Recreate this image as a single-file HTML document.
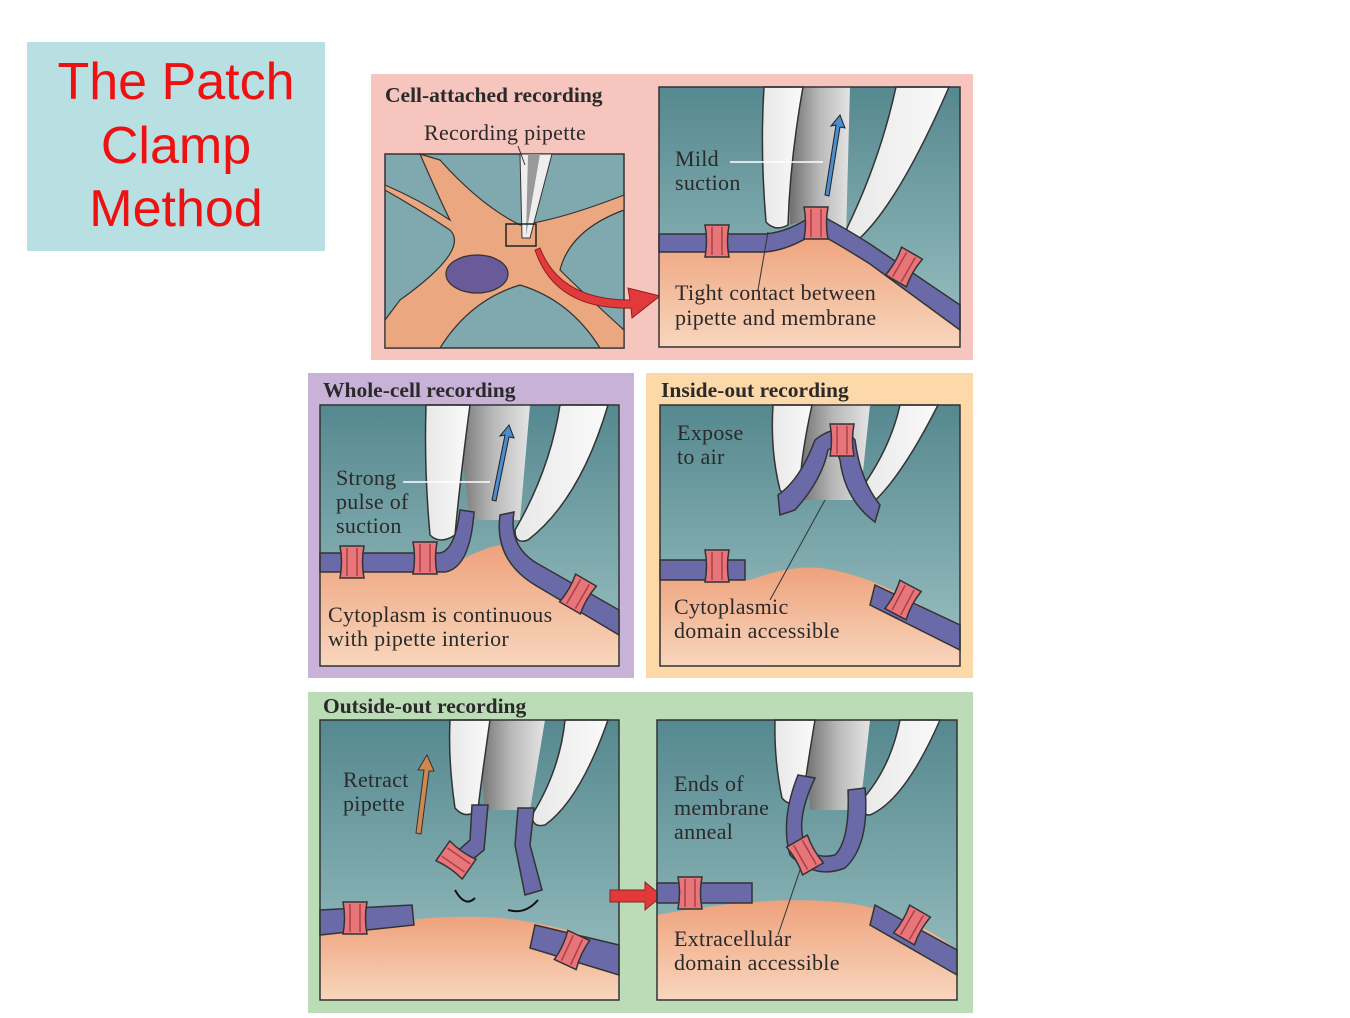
<!DOCTYPE html>
<html><head><meta charset="utf-8"><style>
body{margin:0;background:#fff;width:1350px;height:1013px;overflow:hidden}
svg text{font-family:"Liberation Serif",serif;fill:#2a2a2a}
.t{font-weight:bold;font-size:21.5px}
.l{font-size:22px;letter-spacing:0.3px}
</style></head><body>
<svg width="1350" height="1013" viewBox="0 0 1350 1013" xmlns="http://www.w3.org/2000/svg">
<defs>
<linearGradient id="sea" x1="0" y1="0" x2="0" y2="1"><stop offset="0" stop-color="#55888f"/><stop offset="1" stop-color="#9cc2c3"/></linearGradient>
<linearGradient id="cyto" x1="0" y1="0" x2="0" y2="1"><stop offset="0" stop-color="#eea27c"/><stop offset="1" stop-color="#f8d6bd"/></linearGradient>
<linearGradient id="gl" x1="0" y1="0" x2="1" y2="0"><stop offset="0" stop-color="#e8e8e8"/><stop offset="1" stop-color="#fafafa"/></linearGradient>
<linearGradient id="gi" x1="0" y1="0" x2="1" y2="0"><stop offset="0" stop-color="#6e6e6e"/><stop offset="0.5" stop-color="#b9b9b9"/><stop offset="1" stop-color="#e4e4e4"/></linearGradient>
<g id="ch"><path d="M-12,-16 h24 q-3,16 0,32 h-24 q3,-16 0,-32z" fill="#e7757a" stroke="#333" stroke-width="1.5"/><path d="M-5,-14 v28 M5,-14 v28" stroke="#a84048" stroke-width="1.5"/></g>
</defs>

<rect x="27" y="42" width="298" height="209" fill="#b8dfe2"/>
<text x="176" y="99" text-anchor="middle" style="font-family:'Liberation Sans',sans-serif;font-size:52px;fill:#ee1111">The Patch</text>
<text x="176" y="163" text-anchor="middle" style="font-family:'Liberation Sans',sans-serif;font-size:52px;fill:#ee1111">Clamp</text>
<text x="176" y="226" text-anchor="middle" style="font-family:'Liberation Sans',sans-serif;font-size:52px;fill:#ee1111">Method</text>

<rect x="371" y="74" width="602" height="286" fill="#f6c5be"/>
<rect x="308" y="373" width="326" height="305" fill="#c8b2d7"/>
<rect x="646" y="373" width="327" height="305" fill="#fdd9a9"/>
<rect x="308" y="692" width="665" height="321" fill="#bbdcb6"/>
<text x="385" y="102" class="t">Cell-attached recording</text>
<text x="323" y="397" class="t">Whole-cell recording</text>
<text x="661" y="397" class="t">Inside-out recording</text>
<text x="323" y="713" class="t">Outside-out recording</text>

<rect x="385" y="154" width="239" height="194" fill="#7fa9ae" stroke="#333" stroke-width="1.5"/>
<path d="M385,190 Q420,210 450,230 Q470,250 400,300 L385,320 L385,348 L440,348 Q470,300 520,285 Q570,300 600,348 L624,348 L624,330 Q580,290 560,270 Q570,230 624,210 L624,195 Q560,220 520,225 Q480,205 440,160 L420,154 Q440,200 450,220 Q420,200 385,185z" fill="#eba77f" stroke="#333" stroke-width="1.2"/>
<ellipse cx="477" cy="274" rx="31" ry="19" fill="#6a5a9a" stroke="#333" stroke-width="1.2"/>
<path d="M520,154 L522,238 L530,238 L552,154z" fill="#eee" stroke="#333"/>
<path d="M528,154 L526,236 L540,154z" fill="#999"/>
<rect x="506" y="224" width="30" height="22" fill="none" stroke="#222" stroke-width="1.5"/>
<text x="424" y="140" class="l">Recording pipette</text>
<line x1="518" y1="146" x2="525" y2="165" stroke="#333"/>
<path d="M540,248 Q560,300 630,300 L628,288 L660,296 L632,318 L631,308 Q555,310 535,250z" fill="#e23a3a" stroke="#8a2222"/>

<g>
<rect x="659" y="87" width="301" height="260" fill="url(#sea)"/>
<path d="M659,252 L765,252 Q790,250 816,232 Q840,245 870,262 L960,325 L960,347 L659,347z" fill="url(#cyto)"/>
<path d="M789,87 L850,87 L846,237 Q816,215 790,225z" fill="url(#gi)"/>
<path d="M764,87 L803,87 Q790,160 788,225 Q775,232 766,222 Q760,150 764,87z" fill="url(#gl)" stroke="#333" stroke-width="1.5"/>
<path d="M896,87 L949,87 Q900,200 860,238 Q845,240 847,228 Q880,160 896,87z" fill="url(#gl)" stroke="#333" stroke-width="1.5"/>
<path d="M659,234 L765,234 Q790,232 816,213 Q840,225 870,244 L960,305 L960,330 L870,264 Q840,245 816,232 Q790,250 765,252 L659,252z" fill="#6a6aa8" stroke="#333" stroke-width="1.5"/>
<use href="#ch" x="717" y="241"/>
<use href="#ch" x="816" y="223"/>
<use href="#ch" x="904" y="267" transform="rotate(30 904 267)"/>
<path d="M825,195 L836,125 L831,126 L840,115 L845,128 L840,127 L829,196z" fill="#4a8ed0" stroke="#222" stroke-width="1"/>
<rect x="659" y="87" width="301" height="260" fill="none" stroke="#333" stroke-width="1.5"/>
<line x1="730" y1="162" x2="823" y2="162" stroke="#fff" stroke-width="1.5"/>
<line x1="768" y1="232" x2="758" y2="290" stroke="#333"/>
<text x="675" y="166" class="l">Mild</text>
<text x="675" y="190" class="l">suction</text>
<text x="675" y="300" class="l">Tight contact between</text>
<text x="675" y="325" class="l">pipette and membrane</text>
</g>

<g>
<rect x="320" y="405" width="299" height="261" fill="url(#sea)"/>
<path d="M320,572 L440,572 Q480,548 500,545 Q530,560 570,585 L619,625 L619,666 L320,666z" fill="url(#cyto)"/>
<path d="M456,405 L530,405 L520,520 L470,520z" fill="url(#gi)"/>
<path d="M426,405 L470,405 Q460,480 455,535 Q440,545 430,535 Q424,470 426,405z" fill="url(#gl)" stroke="#333" stroke-width="1.5"/>
<path d="M560,405 L608,405 Q580,500 528,540 Q515,545 515,530 Q550,470 560,405z" fill="url(#gl)" stroke="#333" stroke-width="1.5"/>
<path d="M320,553 L440,553 Q455,550 460,510 L474,512 Q470,568 445,572 L320,572z" fill="#6a6aa8" stroke="#333" stroke-width="1.5"/>
<path d="M500,515 L514,512 Q508,548 540,565 L619,610 L619,635 L535,585 Q494,560 500,515z" fill="#6a6aa8" stroke="#333" stroke-width="1.5"/>
<use href="#ch" x="352" y="562"/>
<use href="#ch" x="425" y="558"/>
<use href="#ch" x="578" y="594" transform="rotate(30 578 594)"/>
<path d="M492,500 L505,435 L500,436 L509,425 L514,438 L509,437 L496,501z" fill="#4a8ed0" stroke="#222"/>
<rect x="320" y="405" width="299" height="261" fill="none" stroke="#333" stroke-width="1.5"/>
<line x1="403" y1="482" x2="490" y2="482" stroke="#fff" stroke-width="1.5"/>
<text x="336" y="485" class="l">Strong</text>
<text x="336" y="509" class="l">pulse of</text>
<text x="336" y="533" class="l">suction</text>
<text x="328" y="622" class="l">Cytoplasm is continuous</text>
<text x="328" y="646" class="l">with pipette interior</text>
</g>

<g>
<rect x="660" y="405" width="300" height="261" fill="url(#sea)"/>
<path d="M660,580 L750,580 Q790,565 820,568 Q880,575 960,630 L960,666 L660,666z" fill="url(#cyto)"/>
<path d="M798,405 L870,405 L860,500 L805,500z" fill="url(#gi)"/>
<path d="M773,405 L812,405 Q800,460 800,490 Q790,500 780,490 Q770,450 773,405z" fill="url(#gl)" stroke="#333" stroke-width="1.5"/>
<path d="M900,405 L938,405 Q900,480 870,505 Q858,505 858,493 Q890,450 900,405z" fill="url(#gl)" stroke="#333" stroke-width="1.5"/>
<path d="M780,515 L778,495 Q800,480 815,440 Q840,420 855,440 Q860,480 880,505 L875,522 Q845,500 840,460 Q835,445 828,450 Q822,480 795,510z" fill="#6a6aa8" stroke="#333" stroke-width="1.5"/>
<use href="#ch" x="842" y="440"/>
<path d="M660,560 L745,560 L745,580 L660,580z" fill="#6a6aa8" stroke="#333" stroke-width="1.5"/>
<use href="#ch" x="717" y="566"/>
<path d="M875,585 L960,625 L960,650 L870,605z" fill="#6a6aa8" stroke="#333" stroke-width="1.5"/>
<use href="#ch" x="903" y="600" transform="rotate(28 903 600)"/>
<rect x="660" y="405" width="300" height="261" fill="none" stroke="#333" stroke-width="1.5"/>
<line x1="825" y1="500" x2="770" y2="600" stroke="#333"/>
<text x="677" y="440" class="l">Expose</text>
<text x="677" y="464" class="l">to air</text>
<text x="674" y="614" class="l">Cytoplasmic</text>
<text x="674" y="638" class="l">domain accessible</text>
</g>

<g>
<rect x="320" y="720" width="299" height="280" fill="url(#sea)"/>
<path d="M320,935 Q420,912 500,918 Q570,925 619,950 L619,1000 L320,1000z" fill="url(#cyto)"/>
<path d="M478,720 L545,720 L530,810 L485,810z" fill="url(#gi)"/>
<path d="M450,720 L490,720 Q480,790 478,810 Q465,820 455,808 Q448,760 450,720z" fill="url(#gl)" stroke="#333" stroke-width="1.5"/>
<path d="M565,720 L608,720 Q580,800 545,825 Q532,828 532,815 Q560,770 565,720z" fill="url(#gl)" stroke="#333" stroke-width="1.5"/>
<path d="M472,805 L488,805 L484,850 L460,870 L452,856 L470,840z" fill="#6a6aa8" stroke="#333" stroke-width="1.5"/>
<use href="#ch" x="456" y="860" transform="rotate(-55 456 860)"/>
<path d="M518,808 L534,808 L530,845 L542,890 L525,895 L515,845z" fill="#6a6aa8" stroke="#333" stroke-width="1.5"/>
<path d="M320,910 L412,905 L414,925 L320,935z" fill="#6a6aa8" stroke="#333" stroke-width="1.5"/>
<use href="#ch" x="355" y="918"/>
<path d="M535,925 L619,945 L619,975 L530,948z" fill="#6a6aa8" stroke="#333" stroke-width="1.5"/>
<use href="#ch" x="572" y="950" transform="rotate(25 572 950)"/>
<path d="M416,833 L424,770 L418,770 L427,755 L434,771 L429,771 L421,834z" fill="#d08850" stroke="#333"/>
<path d="M455,890 Q465,908 475,898" fill="none" stroke="#111" stroke-width="2"/>
<path d="M538,900 Q525,915 508,910" fill="none" stroke="#111" stroke-width="2"/>
<rect x="320" y="720" width="299" height="280" fill="none" stroke="#333" stroke-width="1.5"/>
<text x="343" y="787" class="l">Retract</text>
<text x="343" y="811" class="l">pipette</text>
</g>
<path d="M610,890 L645,890 L645,882 L662,896 L645,910 L645,902 L610,902z" fill="#e23a3a" stroke="#8a2222"/>

<g>
<rect x="657" y="720" width="300" height="280" fill="url(#sea)"/>
<path d="M657,915 Q780,892 860,905 Q920,920 957,950 L957,1000 L657,1000z" fill="url(#cyto)"/>
<path d="M805,720 L870,720 L860,810 L810,810z" fill="url(#gi)"/>
<path d="M775,720 L815,720 Q805,780 803,800 Q790,808 782,798 Q774,760 775,720z" fill="url(#gl)" stroke="#333" stroke-width="1.5"/>
<path d="M900,720 L940,720 Q905,800 870,815 Q858,815 860,802 Q890,770 900,720z" fill="url(#gl)" stroke="#333" stroke-width="1.5"/>
<path d="M798,775 L815,778 Q795,820 805,845 Q815,860 835,855 Q850,840 848,790 L865,788 Q870,845 845,868 Q815,880 790,855 Q780,820 798,775z" fill="#6a6aa8" stroke="#333" stroke-width="1.5"/>
<use href="#ch" x="805" y="855" transform="rotate(-30 805 855)"/>
<path d="M657,883 L752,883 L752,903 L657,903z" fill="#6a6aa8" stroke="#333" stroke-width="1.5"/>
<use href="#ch" x="690" y="893"/>
<path d="M875,905 L957,950 L957,975 L870,925z" fill="#6a6aa8" stroke="#333" stroke-width="1.5"/>
<use href="#ch" x="912" y="925" transform="rotate(30 912 925)"/>
<rect x="657" y="720" width="300" height="280" fill="none" stroke="#333" stroke-width="1.5"/>
<line x1="800" y1="870" x2="778" y2="935" stroke="#333"/>
<text x="674" y="791" class="l">Ends of</text>
<text x="674" y="815" class="l">membrane</text>
<text x="674" y="839" class="l">anneal</text>
<text x="674" y="946" class="l">Extracellular</text>
<text x="674" y="970" class="l">domain accessible</text>
</g>
</svg>
</body></html>
